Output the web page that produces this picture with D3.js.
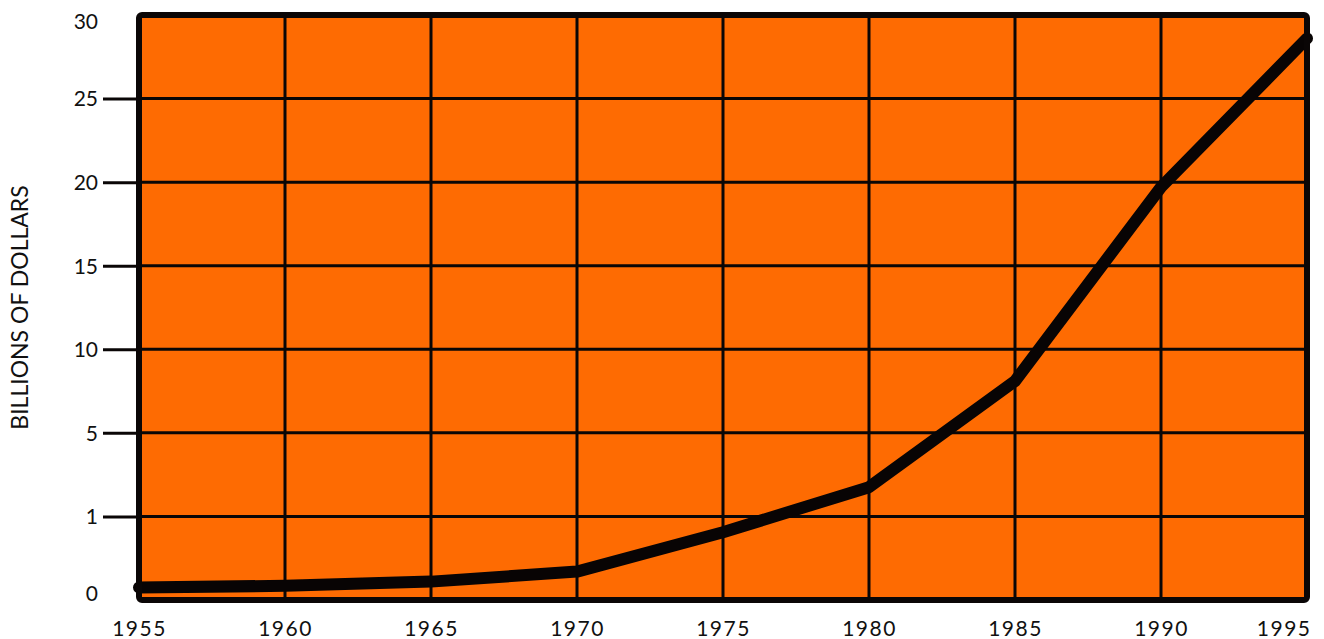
<!DOCTYPE html>
<html><head><meta charset="utf-8">
<script src="https://cdn.jsdelivr.net/npm/d3@7"></script>
<style>
html,body{margin:0;padding:0;background:#fff;}
svg{display:block;}
text{font-family:"Lato","Open Sans",sans-serif;fill:#111;}
</style></head>
<body>
<svg id="chart" width="1324" height="639"></svg>
<script>
const years = [1955,1960,1965,1970,1975,1980,1985,1990,1995];
const values = [0.15,0.17,0.22,0.34,0.81,2.4,8.1,19.7,28.6];
const yTickValues = [0,1,5,10,15,20,25,30];
const yTickLabels = ["0","1","5","10","15","20","25","30"];
const xTickLabels = ["1955","1960","1965","1970","1975","1980","1985","1990","1995"];

const W = 1324, H = 639;
const m = {left:139, right:17, top:15, bottom:39};
const plotL = m.left, plotR = W - m.right, plotT = m.top, plotB = H - m.bottom;

const svg = d3.select("#chart");

const x = d3.scaleLinear().domain([1955,1995]).range([plotL, plotR]);
// non-linear (piecewise) y scale with equally spaced ticks
const step = (plotB - plotT) / (yTickValues.length - 1);
const y = d3.scaleLinear()
  .domain(yTickValues)
  .range(yTickValues.map((d,i) => plotB - i*step));

// background
svg.append("rect")
  .attr("x", plotL).attr("y", plotT)
  .attr("width", plotR - plotL).attr("height", plotB - plotT)
  .attr("fill", "#fe6b02");

// grid
const g = svg.append("g");
g.selectAll("line.v").data(years.slice(1,-1)).join("line")
  .attr("x1", d=>x(d)).attr("x2", d=>x(d))
  .attr("y1", plotT).attr("y2", plotB)
  .attr("stroke", "#0a0606").attr("stroke-width", 3);
g.selectAll("line.h").data(yTickValues.slice(1,-1)).join("line")
  .attr("y1", d=>y(d)).attr("y2", d=>y(d))
  .attr("x1", plotL).attr("x2", plotR)
  .attr("stroke", "#0a0606").attr("stroke-width", 3);

// y axis ticks
const yAxis = d3.axisLeft(y).tickValues(yTickValues)
  .tickFormat((d,i)=>yTickLabels[i]).tickSize(0).tickPadding(41);
const ya = svg.append("g").attr("transform", `translate(${plotL},0)`).call(yAxis);
ya.select(".domain").remove();
ya.selectAll(".tick text").attr("font-size", 21).attr("font-family","Lato, sans-serif").attr("fill","#111")
  .attr("dy", d => d===30 ? "0.65em" : (d===0 ? "0.0em" : "0.35em"));
ya.selectAll(".tick").filter(d => d>0 && d<30).append("line")
  .attr("x1", -36).attr("x2", 0).attr("stroke","#0a0606").attr("stroke-width",3);

// x axis labels
const xAxis = d3.axisBottom(x).tickValues(years)
  .tickFormat((d,i)=>xTickLabels[i]).tickSize(0).tickPadding(21);
const xa = svg.append("g").attr("transform", `translate(0,${plotB})`).call(xAxis);
xa.select(".domain").remove();
xa.selectAll(".tick text").attr("font-size", 21).attr("font-family","Lato, sans-serif").attr("fill","#111").attr("letter-spacing","1.5px");
xa.selectAll(".tick text").filter(d => d===1995).attr("text-anchor","end").attr("dx", 4);

// line
const line = d3.line().x((d,i)=>x(years[i])).y(d=>y(d));
svg.append("path").datum(values)
  .attr("d", line)
  .attr("fill","none").attr("stroke","#080404").attr("stroke-width",12)
  .attr("stroke-linejoin","round").attr("stroke-linecap","round");

// frame
svg.append("rect")
  .attr("x", plotL).attr("y", plotT)
  .attr("width", plotR - plotL).attr("height", plotB - plotT)
  .attr("rx", 3)
  .attr("fill", "none").attr("stroke", "#0a0606").attr("stroke-width", 6);

// y title
svg.append("text")
  .attr("transform", `translate(19,${(plotT+plotB)/2}) rotate(-90)`)
  .attr("text-anchor","middle").attr("dominant-baseline","central")
  .attr("font-size", 23)
  .text("BILLIONS OF DOLLARS");
</script>
</body></html>
